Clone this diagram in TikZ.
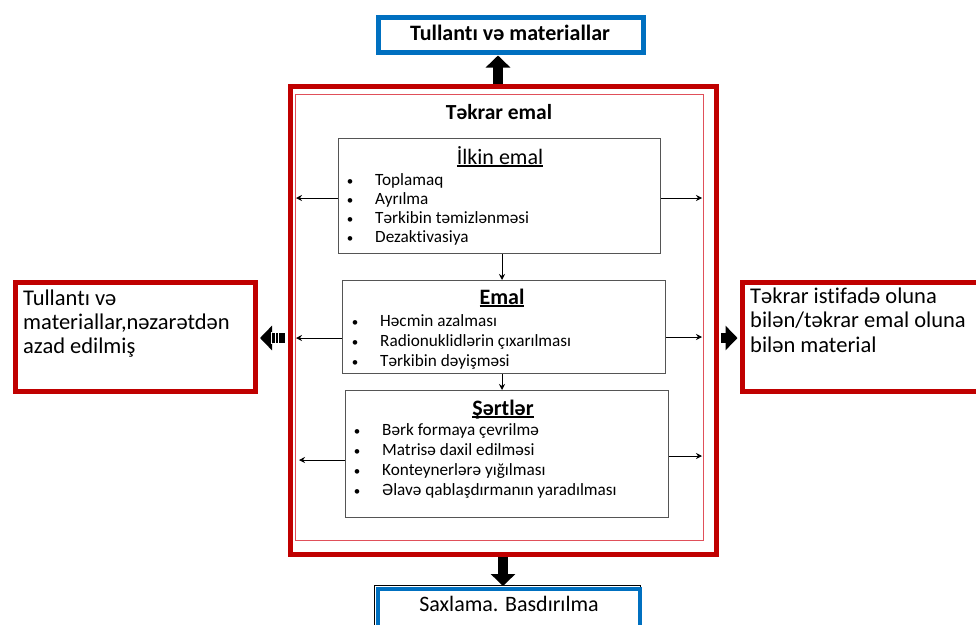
\documentclass[tikz,border=0pt]{standalone}
\usepackage{fontspec}
\setmainfont{Carlito}[Ligatures=NoCommon]
\usetikzlibrary{arrows.meta}
\definecolor{dred}{HTML}{C00000}
\definecolor{lred}{HTML}{E0505A}
\definecolor{dblue}{HTML}{0070C0}
\definecolor{gbord}{HTML}{555555}
\newcommand\myul[1]{\setbox0\hbox{#1}\rlap{\rule[-2.6pt]{\wd0}{1.3pt}}\box0}
\begin{document}
\begin{tikzpicture}[x=1pt,y=-1pt,
  rbox/.style={draw=dred,line width=5pt,anchor=north west,inner sep=0pt},
  bbox/.style={draw=dblue,line width=4.5pt,anchor=north west,inner sep=0pt},
  gbox/.style={draw=gbord,line width=1pt,anchor=north west,inner sep=0pt},
  item/.style={anchor=base west,inner sep=0pt,font=\fontsize{17.2}{20}\selectfont},
  bul/.style={anchor=base,inner sep=0pt,font=\fontsize{13}{16}\selectfont},
  ttl/.style={anchor=base,inner sep=0pt,font=\fontsize{22}{26}\selectfont},
  big/.style={anchor=base west,inner sep=0pt,font=\fontsize{22.5}{26}\selectfont},
  sarrow/.style={-{Stealth[length=6pt,width=6pt]},line width=0.9pt},
  barrow/.style={line width=10pt,-{Triangle[length=12pt,width=24pt]}}]
\useasboundingbox (0,0) rectangle (976,624);
% outer frame
\node[rbox,minimum width=426.5pt,minimum height=468pt] (fout) at (287.5,84) {};
\node[draw=lred,line width=1pt,anchor=north west,inner sep=0pt,minimum width=408pt,minimum height=446pt] (fin) at (295,94) {};
\node[anchor=base,inner sep=0pt,font=\bfseries\fontsize{21.5}{25}\selectfont] (tit) at (499,119) {Təkrar emal};
% top and bottom boxes
\node[bbox,minimum width=265pt,minimum height=35pt] (top) at (376,15) {};
\node[anchor=base,inner sep=0pt,font=\bfseries\fontsize{22}{26}\selectfont] (toptxt) at (510,40) {Tullantı və materiallar};
\node[draw=black,line width=0.8pt,anchor=north west,inner sep=0pt,minimum width=266pt,minimum height=50pt] (botk) at (374,585) {};
\node[draw=dblue,line width=4pt,anchor=north west,inner sep=0pt,minimum width=262pt,minimum height=46pt] (bot) at (376.4,587.4) {};
\node[anchor=base,inner sep=0pt,font=\fontsize{22}{26}\selectfont] (bottxt) at (509,611) {Saxlama. Basdırılma};
% side boxes
\node[rbox,minimum width=240pt,minimum height=109pt] (lbox) at (12.5,280) {};
\node[big] (l1) at (23,305) {Tullantı və};
\node[big] (l2) at (23,329) {materiallar,nəzarətdən};
\node[big] (l3) at (23,353) {azad edilmiş};
\node[rbox,minimum width=260pt,minimum height=109pt] (rbox) at (740,280) {};
\node[big] (r1) at (750,303) {Təkrar istifadə oluna};
\node[big] (r2) at (750,327) {bilən/təkrar emal oluna};
\node[big] (r3) at (750,352) {bilən material};
% inner boxes
\node[gbox,minimum width=322pt,minimum height=115pt] (b1) at (338,138) {};
\node[ttl] (t1) at (500,164) {\myul{İlkin emal}};
\node[bul] (b1a) at (350,185) {•};\node[item] (i1a) at (375,185) {Toplamaq};
\node[bul] (b1b) at (350,204) {•};\node[item] (i1b) at (375,204) {Ayrılma};
\node[bul] (b1c) at (350,223) {•};\node[item] (i1c) at (375,223) {Tərkibin təmizlənməsi};
\node[bul] (b1d) at (350,242) {•};\node[item] (i1d) at (375,242) {Dezaktivasiya};
\node[gbox,minimum width=323pt,minimum height=93pt] (b2) at (342,280) {};
\node[ttl,font=\bfseries\fontsize{22}{26}\selectfont] (t2) at (502,304) {\myul{Emal}};
\node[bul] (b2a) at (355,326) {•};\node[item] (i2a) at (380,326) {Həcmin azalması};
\node[bul] (b2b) at (355,346) {•};\node[item] (i2b) at (380,346) {Radionuklidlərin çıxarılması};
\node[bul] (b2c) at (355,366) {•};\node[item] (i2c) at (380,366) {Tərkibin dəyişməsi};
\node[gbox,minimum width=323pt,minimum height=127pt] (b3) at (345,390) {};
\node[ttl,font=\bfseries\fontsize{22}{26}\selectfont] (t3) at (503,415) {\myul{Şərtlər}};
\node[bul] (b3a) at (357,435) {•};\node[item] (i3a) at (382,435) {Bərk formaya çevrilmə};
\node[bul] (b3b) at (357,455) {•};\node[item] (i3b) at (382,455) {Matrisə daxil edilməsi};
\node[bul] (b3c) at (357,475) {•};\node[item] (i3c) at (382,475) {Konteynerlərə yığılması};
\node[bul] (b3d) at (357,495) {•};\node[item] (i3d) at (382,495) {Əlavə qablaşdırmanın yaradılması};
% small arrows
\coordinate (c1l) at (296,198); \coordinate (c1r) at (702,198);
\coordinate (c2l) at (296,338); \coordinate (c2r) at (702,337);
\coordinate (c3l) at (299,460); \coordinate (c3r) at (702,456);
\draw[sarrow] (b1.west |- c1l) -- (c1l);
\draw[sarrow] (b1.east |- c1r) -- (c1r);
\draw[sarrow] (b2.west |- c2l) -- (c2l);
\draw[sarrow] (b2.east |- c2r) -- (c2r);
\draw[sarrow] (b3.west |- c3l) -- (c3l);
\draw[sarrow] (b3.east |- c3r) -- (c3r);
\coordinate (vx) at (502,0);
\draw[sarrow] (b1.south -| vx) -- (b2.north -| vx);
\draw[sarrow] (b2.south -| vx) -- (b3.north -| vx);
% block arrows
\coordinate (ax) at (498,0);
\draw[barrow] (fout.north -| ax) -- ([yshift=-1pt]top.south -| ax);
\coordinate (bx) at (503,0);
\draw[barrow] (fout.south -| bx) -- ([yshift=-1pt]botk.north -| bx);
\coordinate (ly) at (0,338);
\draw[barrow] ([xshift=-3pt]fout.west |- ly) -- ([xshift=2.5pt]lbox.east |- ly);
\foreach \xx in {271,275,278.5} \draw[white,line width=1pt] (\xx,332) -- (\xx,344);
\draw[barrow] ([xshift=2pt]fout.east |- ly) -- ([xshift=-2.5pt]rbox.west |- ly);
\end{tikzpicture}
\end{document}
